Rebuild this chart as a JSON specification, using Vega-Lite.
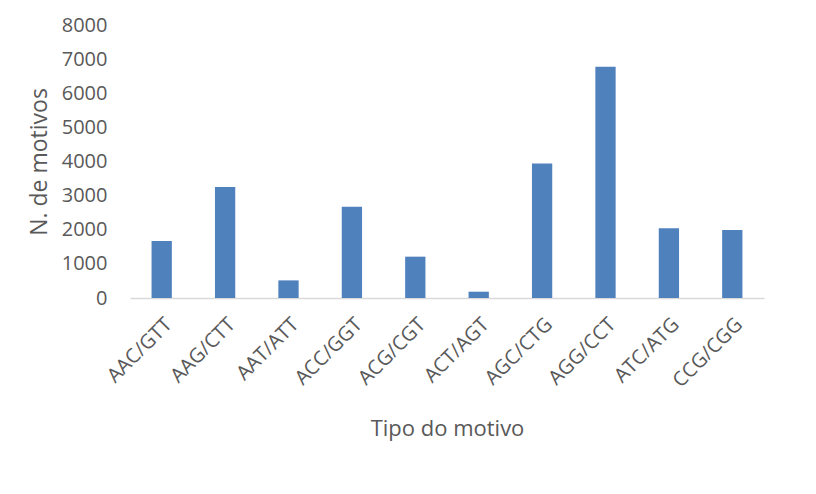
{
  "$schema": "https://vega.github.io/schema/vega-lite/v6.json",
  "autosize": "none",
  "padding": {"left": 130, "top": 25, "right": 52, "bottom": 196},
  "width": 634,
  "height": 273,
  "background": "white",
  "config": {"view": {"stroke": null}, "font": "Open Sans"},
  "data": {"values": [
    {"motivo": "AAC/GTT", "n": 1670},
    {"motivo": "AAG/CTT", "n": 3255},
    {"motivo": "AAT/ATT", "n": 516},
    {"motivo": "ACC/GGT", "n": 2677},
    {"motivo": "ACG/CGT", "n": 1211},
    {"motivo": "ACT/AGT", "n": 185},
    {"motivo": "AGC/CTG", "n": 3938},
    {"motivo": "AGG/CCT", "n": 6774},
    {"motivo": "ATC/ATG", "n": 2041},
    {"motivo": "CCG/CGG", "n": 1994}
  ]},
  "mark": {"type": "bar", "color": "#4F81BD"},
  "encoding": {
    "x": {
      "field": "motivo", "type": "nominal", "sort": null,
      "scale": {"paddingInner": 0.68, "paddingOuter": 0.34},
      "axis": {
        "title": "Tipo do motivo", "titleFont": "Open Sans", "titleFontSize": 22, "titleFontWeight": "normal",
        "titleColor": "#595959", "titlePadding": 28,
        "labelAngle": -45, "labelFontSize": 20, "labelColor": "#595959", "labelPadding": 16,
        "ticks": false, "domainColor": "#D9D9D9", "domainWidth": 1.5
      }
    },
    "y": {
      "field": "n", "type": "quantitative",
      "scale": {"domain": [0, 8000]},
      "axis": {
        "title": "N. de motivos", "titleFont": "Open Sans", "titleFontSize": 23, "titleFontWeight": "normal",
        "titleColor": "#595959", "titlePadding": 10,
        "values": [0, 1000, 2000, 3000, 4000, 5000, 6000, 7000, 8000],
        "format": "d", "labelFontSize": 20, "labelColor": "#595959", "labelPadding": 23,
        "ticks": false, "domain": false, "grid": false
      }
    }
  }
}
